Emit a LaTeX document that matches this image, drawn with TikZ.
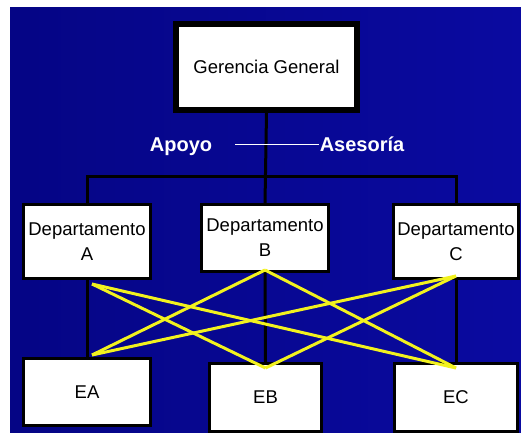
\documentclass[tikz,border=0pt]{standalone}
\usepackage{fontspec}
\setmainfont{Liberation Sans}
\usetikzlibrary{positioning,calc}
\definecolor{bgblue}{HTML}{0A0AA0}
\definecolor{bgdark}{HTML}{050585}
\definecolor{crossline}{HTML}{F2F21E}

\begin{document}
\begin{tikzpicture}[x=1pt,y=-1pt,
 unit/.style={draw=black,fill=white,line width=3pt,inner sep=0pt,align=center,
  font=\fontsize{18.5}{25}\selectfont},
 link/.style={draw=black,line width=3pt},
 cross/.style={draw=crossline,line width=3pt},
 tag/.style={text=white,font=\bfseries\fontsize{20}{24}\selectfont,inner sep=1pt,
  text height=13pt,text depth=0pt}]
\useasboundingbox (0,0) rectangle (521,439);
\shade[left color=bgdark,right color=bgblue] (10,7) rectangle (521,432);
\node[unit,line width=6pt,minimum width=181pt,minimum height=86pt] (gerencia) at (266.5,67)
 {Gerencia General};
\node[unit,minimum width=127pt,minimum height=74pt] (depA) at (87,241.5) {Departamento\\A};
\node[unit,minimum width=127pt,minimum height=67pt] (depB) at (265,238) {Departamento\\B};
\node[unit,minimum width=125pt,minimum height=74pt] (depC) at (456,241.5) {Departamento\\C};
\node[unit,minimum width=127pt,minimum height=67pt] (ea) at (87,392) {EA};
\node[unit,minimum width=112pt,minimum height=68pt] (eb) at (265.5,397.5) {EB};
\node[unit,minimum width=123pt,minimum height=68pt] (ec) at (456,397.5) {EC};
\node[tag] (apoyo) at (181,144.5) {Apoyo};
\node[tag] (asesoria) at (362,144.5) {Asesoría};
\coordinate (bus) at (265,176);
\draw[link] (gerencia.south) -- (depB.north);
\draw[link] (depA.north) |- (bus) -| (depC.north);
\draw[white,line width=1pt,shorten <=22pt] (apoyo.east) -- (asesoria.west);
\draw[link] (depA.south) -- (ea.north);
\draw[link] (depB.south) -- (eb.north);
\draw[link] (depC.south) -- (ec.north);
\draw[cross] ([shift={(5,4)}]depA.south) -- ([yshift=-6]eb.north);
\draw[cross] ([shift={(5,4)}]depA.south) -- ([yshift=-6]ec.north);
\draw[cross] ([yshift=3]depB.south) -- ([shift={(5,-2)}]ea.north);
\draw[cross] ([yshift=3]depB.south) -- ([yshift=-6]ec.north);
\draw[cross] ([yshift=4]depC.south) -- ([shift={(5,-2)}]ea.north);
\draw[cross] ([yshift=4]depC.south) -- ([yshift=-6]eb.north);
\end{tikzpicture}
\end{document}
